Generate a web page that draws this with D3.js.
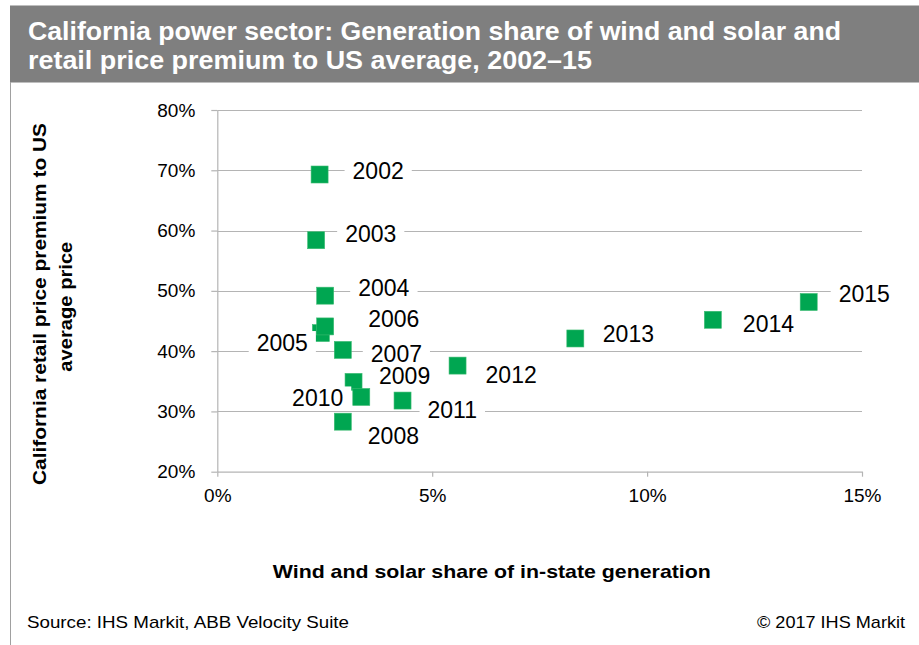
<!DOCTYPE html>
<html><head><meta charset="utf-8">
<script src="https://cdn.jsdelivr.net/npm/d3@7"></script>
<style>
body{margin:0;background:#fff;}
svg{display:block;font-family:"Liberation Sans",Arial,Helvetica,sans-serif;}
</style>
</head><body>
<svg id="c" width="919" height="645"></svg>
<script>
// ---- data ----
const years = [2002,2003,2004,2005,2006,2007,2008,2009,2010,2011,2012,2013,2014,2015];
const windSolarShare = [2.38,2.30,2.51,2.41,2.51,2.92,2.92,3.17,3.35,4.31,5.59,8.33,11.53,13.76]; // %
const pricePremium   = [69.3,58.4,49.2,43.0,44.1,40.2,28.3,34.9,32.4,31.8,37.6,42.1,45.2,48.15]; // %
const xTickValues = [0,5,10,15];
const yTickValues = [20,30,40,50,60,70,80];
const titleLines = ["California power sector: Generation share of wind and solar and","retail price premium to US average, 2002\u201315"];
const yTitleLines = ["California retail price premium to US","average price"];
const xTitle = "Wind and solar share of in-state generation";
const sourceText = "Source: IHS Markit, ABB Velocity Suite";
const copyrightText = "\u00A9 2017 IHS Markit";

// label placement (relative to marker centre)
const labelPlacement = {
  2002:{a:"start",dx:33,dy:4},  2003:{a:"start",dx:29,dy:1.5}, 2004:{a:"start",dx:33,dy:0.5},
  2005:{a:"end",dx:-13,dy:18},  2006:{a:"start",dx:43,dy:0.5}, 2007:{a:"start",dx:28,dy:12},
  2008:{a:"start",dx:25,dy:22.5},2009:{a:"start",dx:25.5,dy:2.5},2010:{a:"end",dx:-18,dy:9.5},
  2011:{a:"start",dx:25,dy:17.5},2012:{a:"start",dx:28,dy:17},2013:{a:"start",dx:27.5,dy:4},
  2014:{a:"start",dx:30,dy:12.5},2015:{a:"start",dx:30,dy:0}
};

const svg = d3.select("#c");
const W = 919, H = 645;
const plot = {left:217.3, right:862, top:110, bottom:471.7};
const gridColor = "#b4b4b4";
const green = "#00a651";

// header
svg.append("rect").attr("x",10).attr("y",5.5).attr("width",W-10).attr("height",77).attr("fill","#7f7f7f");
svg.append("line").attr("x1",10.5).attr("x2",10.5).attr("y1",82).attr("y2",H).attr("stroke","#a0a0a0").attr("stroke-width",1);
const titleLen = [813, 564];
svg.append("g").selectAll("text").data(titleLines).join("text")
  .attr("x",28).attr("y",(d,i)=>39.5+i*29.5)
  .attr("fill","#fff").attr("font-weight","bold").attr("font-size",25)
  .attr("textLength",(d,i)=>titleLen[i]).attr("lengthAdjust","spacingAndGlyphs")
  .text(d=>d);

const x = d3.scaleLinear().domain([0,15]).range([plot.left, plot.right]);
const y = d3.scaleLinear().domain([20,80]).range([plot.bottom, plot.top]);

// gridlines
svg.append("g").selectAll("line").data(yTickValues.filter(v=>v>20)).join("line")
  .attr("x1",plot.left).attr("x2",plot.right)
  .attr("y1",d=>Math.round(y(d))+0.5).attr("y2",d=>Math.round(y(d))+0.5)
  .attr("stroke",gridColor).attr("stroke-width",1.2);

// axes
const yAxis = svg.append("g").attr("transform",`translate(${plot.left},0)`)
  .call(d3.axisLeft(y).tickValues(yTickValues).tickFormat(d=>d+"%").tickSize(6).tickPadding(16).tickSizeOuter(0));
const xAxis = svg.append("g").attr("transform",`translate(0,${plot.bottom})`)
  .call(d3.axisBottom(x).tickValues(xTickValues).tickFormat(d=>d+"%").tickSize(5).tickPadding(12).tickSizeOuter(0));
[yAxis,xAxis].forEach(g=>{
  g.select(".domain").attr("stroke",gridColor).attr("stroke-width",1.2);
  g.selectAll(".tick line").attr("stroke",gridColor).attr("stroke-width",1.2);
  g.selectAll(".tick text").attr("fill","#000").attr("font-size",19).attr("font-family","Liberation Sans, Arial, sans-serif");
});

// markers
const pts = years.map((yr,i)=>({year:yr, xv:windSolarShare[i], yv:pricePremium[i]}));
const ms = 17;
svg.append("g").selectAll("rect").data(pts).join("rect")
  .attr("x",d=>x(d.xv)-ms/2).attr("y",d=>y(d.yv)-ms/2)
  .attr("width",ms).attr("height",ms).attr("fill",green)
  .attr("stroke","#3dbb72").attr("stroke-width",0.6);

// labels with white boxes
const lg = svg.append("g");
pts.forEach(d=>{
  const p = labelPlacement[d.year];
  const g = lg.append("g");
  const bg = g.append("rect").attr("fill","#fff");
  const t = g.append("text").attr("x",x(d.xv)+p.dx).attr("y",y(d.yv)+p.dy)
    .attr("text-anchor",p.a).attr("font-size",23).attr("fill","#000").text(d.year);
  const bb = t.node().getBBox();
  bg.attr("x",bb.x-8).attr("y",bb.y+1).attr("width",bb.width+16).attr("height",bb.height-2);
});

// axis titles
const yTitleLen = [362, 130];
const yt = svg.append("text").attr("transform","translate(0,304) rotate(-90)")
  .attr("text-anchor","middle").attr("font-weight","bold").attr("font-size",19).attr("fill","#000");
yt.selectAll("tspan").data(yTitleLines).join("tspan")
  .attr("x",(d,i)=>i===0?0:-2.7).attr("y",(d,i)=>46+i*26)
  .attr("textLength",(d,i)=>yTitleLen[i]).attr("lengthAdjust","spacingAndGlyphs")
  .text(d=>d);

svg.append("text").attr("x",491.8).attr("y",578).attr("text-anchor","middle")
  .attr("font-weight","bold").attr("font-size",18.5).attr("fill","#000")
  .attr("textLength",438).attr("lengthAdjust","spacingAndGlyphs").text(xTitle);

// footer
svg.append("text").attr("x",27).attr("y",628).attr("font-size",17).attr("fill","#000")
  .attr("textLength",322).attr("lengthAdjust","spacingAndGlyphs").text(sourceText);
svg.append("text").attr("x",905).attr("y",628).attr("text-anchor","end").attr("font-size",17).attr("fill","#000")
  .attr("textLength",148).attr("lengthAdjust","spacingAndGlyphs").text(copyrightText);
</script>
</body></html>
